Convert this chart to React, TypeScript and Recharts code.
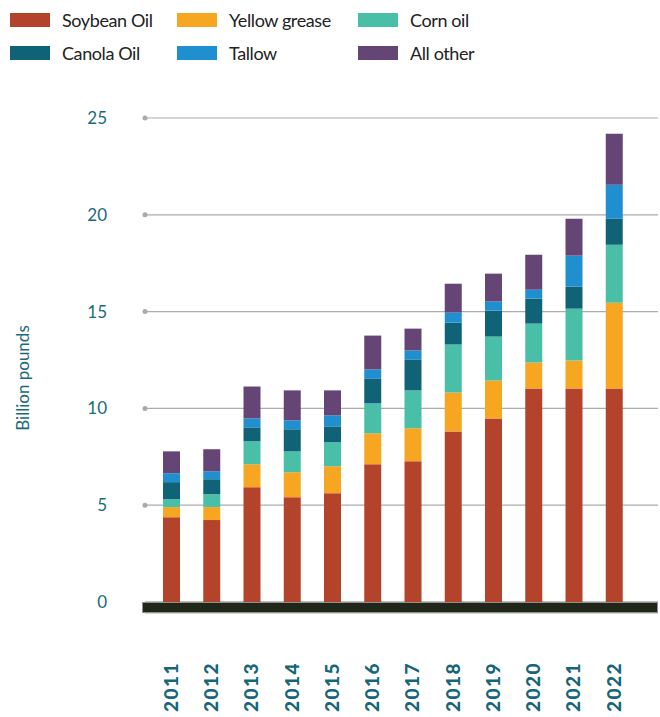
import { BarChart, Bar, XAxis, YAxis, CartesianGrid } from "recharts";

const years = ["2011", "2012", "2013", "2014", "2015", "2016", "2017", "2018", "2019", "2020", "2021", "2022"];
const soybeanOil = [4.38, 4.23, 5.93, 5.41, 5.62, 7.11, 7.27, 8.81, 9.48, 11.03, 11.03, 11.03];
const yellowGrease = [0.52, 0.67, 1.18, 1.29, 1.39, 1.6, 1.7, 2.01, 1.96, 1.34, 1.44, 4.43];
const cornOil = [0.41, 0.67, 1.19, 1.08, 1.24, 1.55, 1.96, 2.48, 2.27, 2.01, 2.68, 2.99];
const canolaOil = [0.88, 0.77, 0.72, 1.14, 0.82, 1.29, 1.6, 1.13, 1.34, 1.29, 1.14, 1.34];
const tallow = [0.46, 0.41, 0.46, 0.46, 0.57, 0.46, 0.46, 0.52, 0.47, 0.46, 1.6, 1.76];
const allOther = [1.13, 1.14, 1.65, 1.55, 1.29, 1.75, 1.13, 1.49, 1.44, 1.81, 1.9, 2.63];
const yTicks = [0, 5, 10, 15, 20, 25];

const series = [
  { key: "soybean", name: "Soybean Oil", color: "#b3432a" },
  { key: "yellow", name: "Yellow grease", color: "#f6a621" },
  { key: "corn", name: "Corn oil", color: "#49bfa7" },
  { key: "canola", name: "Canola Oil", color: "#106277" },
  { key: "tallow", name: "Tallow", color: "#1f8fd0" },
  { key: "other", name: "All other", color: "#654576" },
];

const data = years.map((year, i) => ({
  year,
  soybean: soybeanOil[i],
  yellow: yellowGrease[i],
  corn: cornOil[i],
  canola: canolaOil[i],
  tallow: tallow[i],
  other: allOther[i],
}));

const FONT = "Lato, 'Noto Sans', sans-serif";
const TEAL = "#1a6a7e";

function YTick({ y, payload }: any) {
  return (
    <g>
      {payload.value !== 0 && <circle cx={145} cy={y} r={2.5} fill="#aaaaaa" />}
      <text x={107} y={y} dy="0.35em" textAnchor="end" fill={TEAL} fontSize={17} fontFamily={FONT}>
        {payload.value}
      </text>
    </g>
  );
}

function XTick({ x, payload }: any) {
  return (
    <text
      x={x}
      y={662}
      transform={`rotate(-90, ${x}, 662)`}
      textAnchor="end"
      dy="0.36em"
      fill="#156679"
      fontSize={19}
      fontWeight={900}
      letterSpacing={1.5}
      fontFamily={FONT}
    >
      {payload.value}
    </text>
  );
}

export default function App() {
  return (
    <div style={{ position: "absolute", left: 0, top: 0, width: 660, height: 717, background: "#fff", fontFamily: FONT, overflow: "hidden" }}>
      {/* Legend, two rows of three */}
      {series.map((s, i) => {
        const col = i % 3;
        const row = Math.floor(i / 3);
        const swatchX = [10, 177, 358][col];
        const top = 13 + row * 33;
        return (
          <div key={s.key} style={{ position: "absolute", left: swatchX, top, display: "flex", alignItems: "center", height: 14 }}>
            <div style={{ width: 40, height: 14, background: s.color }} />
            <span style={{ marginLeft: 12, fontSize: 18, letterSpacing: -0.4, color: "#222", whiteSpace: "nowrap" }}>{s.name}</span>
          </div>
        );
      })}

      {/* Axis title */}
      <div
        style={{
          position: "absolute",
          left: 22,
          top: 378,
          transform: "translate(-50%, -50%) rotate(-90deg)",
          fontSize: 17,
          color: TEAL,
          whiteSpace: "nowrap",
        }}
      >
        Billion pounds
      </div>

      <div style={{ position: "absolute", left: 0, top: 0 }}>
        <BarChart width={660} height={717} data={data} margin={{ top: 118, right: 2, left: 0, bottom: 0 }}>
          <CartesianGrid horizontal vertical={false} stroke="#acacac" strokeWidth={1.2} />
          <XAxis
            dataKey="year"
            axisLine={false}
            tickLine={false}
            height={104}
            interval={0}
            padding={{ left: 6, right: 24 }}
            tick={<XTick />}
          />
          <YAxis
            width={145}
            domain={[-0.57, 25]}
            ticks={yTicks}
            axisLine={false}
            tickLine={false}
            tick={<YTick />}
            allowDataOverflow
          />
          {series.map(s => (
            <Bar key={s.key} dataKey={s.key} name={s.name} stackId="a" fill={s.color} barSize={17} isAnimationActive={false} />
          ))}
        </BarChart>
      </div>

      {/* dark baseline band */}
      <div
        style={{
          position: "absolute",
          left: 142,
          top: 602,
          width: 516,
          height: 11,
          background: "#21261b",
          boxSizing: "border-box",
          border: "1px solid #8e938a",
        }}
      />
    </div>
  );
}
